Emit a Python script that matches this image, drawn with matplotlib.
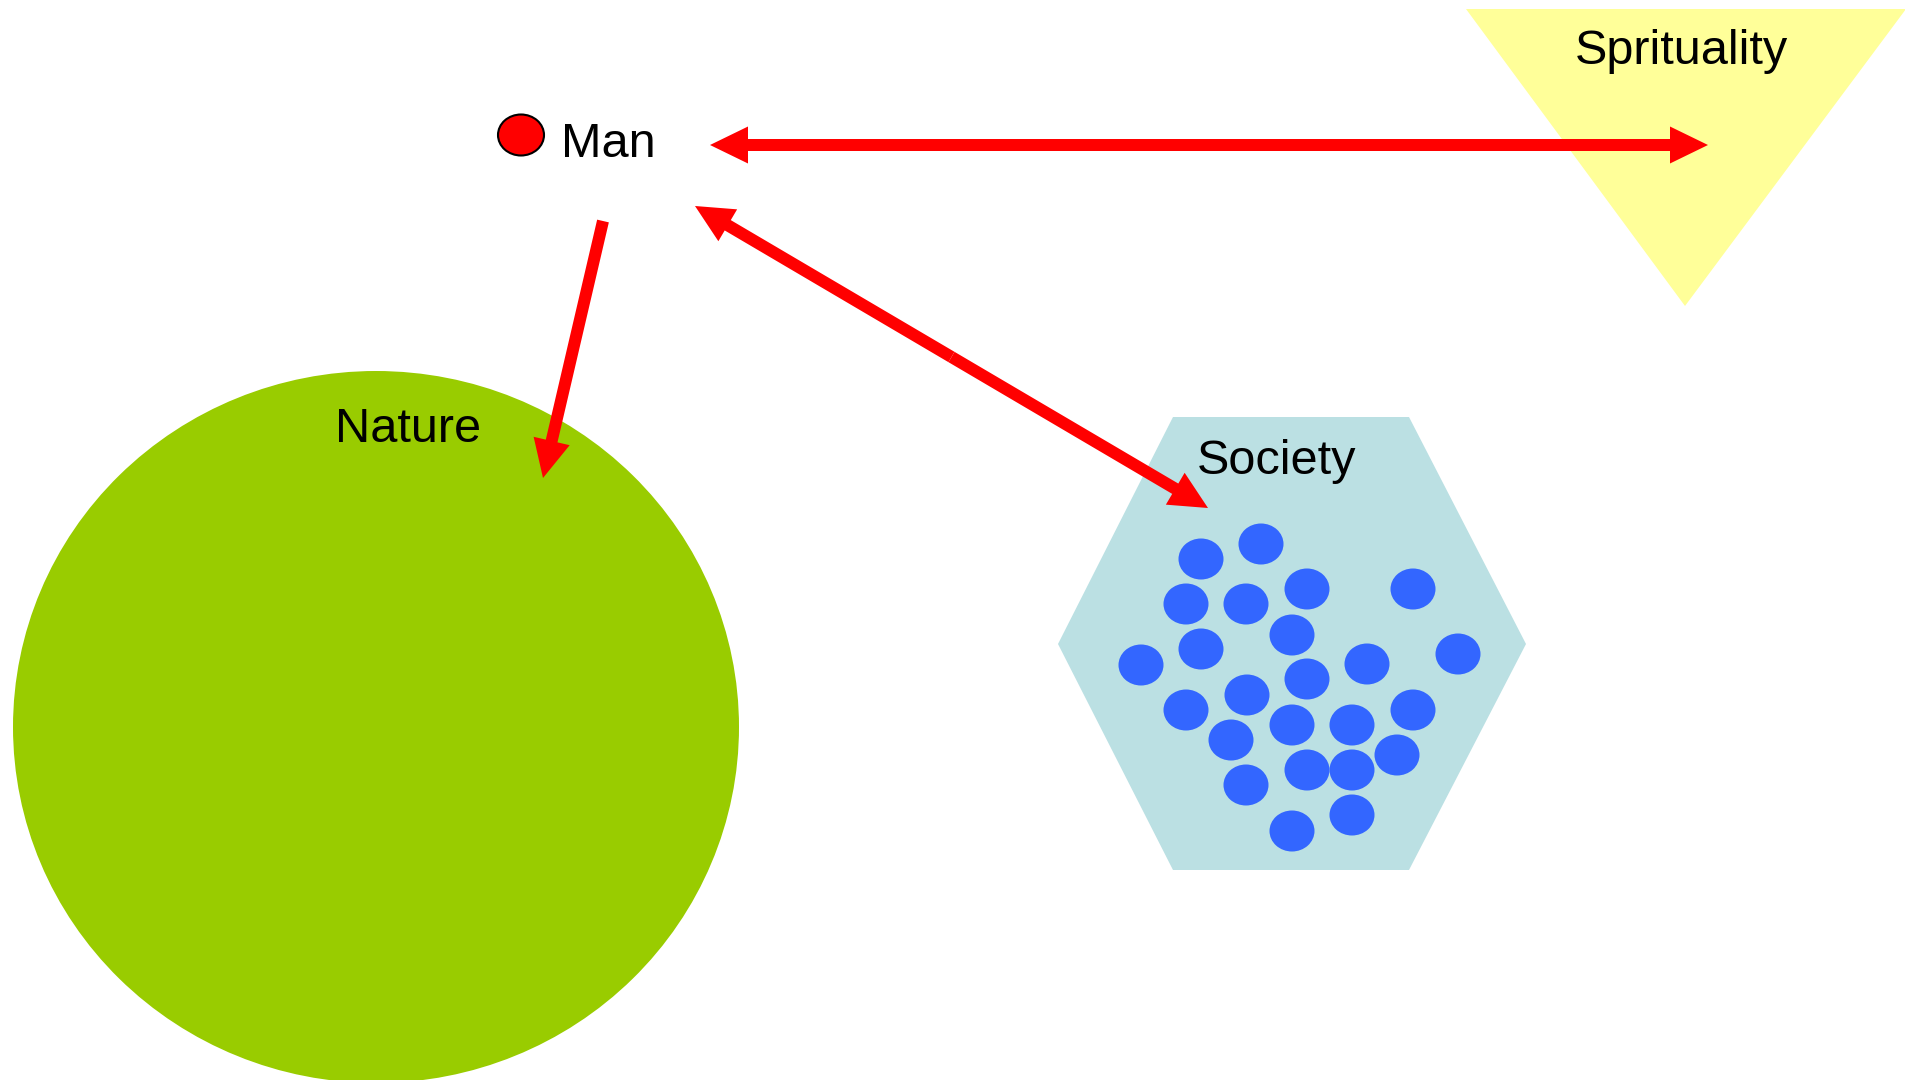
import matplotlib.pyplot as plt
from matplotlib.patches import Ellipse, Polygon, FancyArrow

# canvas in pixels (y grows downward)
W, H = 1906, 1080

labels = ['Man', 'Nature', 'Society', 'Sprituality']
label_x = [608, 408, 1277, 1681]
label_base = [157, 442, 474, 64]

# society members (dot centres)
dots_x = [1201, 1261, 1186, 1246, 1307, 1413, 1292, 1141, 1201, 1367, 1458, 1307,
          1247, 1186, 1292, 1352, 1413, 1231, 1397, 1307, 1352, 1246, 1352, 1292]
dots_y = [559, 544, 604, 604, 589, 589, 635, 665, 649, 664, 654, 679,
          695, 710, 725, 725, 710, 740, 755, 770, 770, 785, 815, 831]

hexagon = [(1173, 417), (1409, 417), (1526, 644), (1409, 870), (1173, 870), (1058, 644)]
triangle = [(1466, 9), (1906, 9), (1685, 306)]

# arrows: (start, end, double headed)
arrows = [((603, 221), (543, 478), False),
          ((710, 145), (1708, 145), True),
          ((695, 206), (1208, 508), True)]


def draw_arrow(ax, p0, p1, both):
    if both:
        mx, my = (p0[0] + p1[0]) / 2, (p0[1] + p1[1]) / 2
        segs = [((mx, my), p1), ((mx, my), p0)]
    else:
        segs = [(p0, p1)]
    for a, b in segs:
        ax.add_patch(FancyArrow(a[0], a[1], b[0] - a[0], b[1] - a[1], width=12,
                                head_width=37, head_length=38,
                                length_includes_head=True, color='#FF0000',
                                linewidth=0, zorder=5))


fig = plt.figure(figsize=(W / 100, H / 100), dpi=100)
ax = fig.add_axes([0, 0, 1, 1])
ax.set_xlim(0, W)
ax.set_ylim(H, 0)
ax.axis('off')

ax.add_patch(Ellipse((376, 727), 726, 712, color='#99CC00', linewidth=0, zorder=1))
ax.add_patch(Polygon(hexagon, closed=True, color='#BBE0E3', linewidth=0, zorder=1))
ax.add_patch(Polygon(triangle, closed=True, color='#FFFF99', linewidth=0, zorder=1))

for x, y in zip(dots_x, dots_y):
    ax.add_patch(Ellipse((x, y), 45, 41, color='#3366FF', linewidth=0, zorder=3))

ax.add_patch(Ellipse((521, 135), 46, 41, facecolor='#FF0000', edgecolor='black',
                     linewidth=1.5, zorder=4))

for p0, p1, both in arrows:
    draw_arrow(ax, p0, p1, both)

for t, x, y in zip(labels, label_x, label_base):
    ax.text(x, y, t, ha='center', va='baseline', fontsize=35,
            family=['Liberation Sans', 'DejaVu Sans'], zorder=6)

fig.savefig('out.png', dpi=100)
